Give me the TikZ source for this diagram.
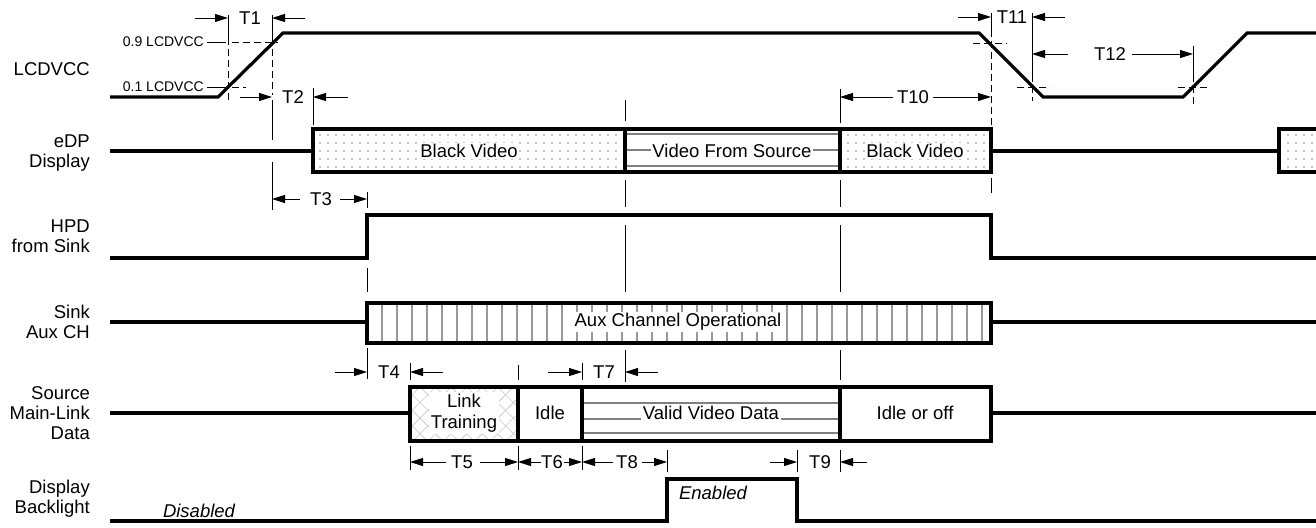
\documentclass[tikz,border=0pt]{standalone}
\usepackage{fontspec}
\setmainfont{Liberation Sans}
\usetikzlibrary{arrows.meta,patterns.meta}
\begin{document}
\begin{tikzpicture}[x=1pt,y=-1pt,
  sig/.style={line width=3.2pt, line join=miter},
  boxline/.style={line width=3.2pt},
  guide/.style={line width=0.9pt},
  dguide/.style={line width=0.9pt, dash pattern=on 7pt off 4pt},
  dim/.style={line width=0.9pt, -{Triangle[length=13pt,width=8pt]}},
  lab/.style={font=\fontsize{18.5}{20}\selectfont, align=right, anchor=east, inner sep=0pt},
  txt/.style={font=\fontsize{18.5}{21}\selectfont, inner sep=0pt, align=center},
  itxt/.style={font=\fontsize{18.5}{21}\selectfont\itshape, inner sep=0pt},
  wtxt/.style={font=\fontsize{18.5}{21}\selectfont, fill=white, inner sep=1.5pt, align=center},
  lvl/.style={font=\fontsize{14}{16}\selectfont, inner sep=0pt, anchor=east},
  dotfill/.style={pattern={Dots[radius=0.9pt,distance=8pt]}, pattern color=gray!90},
  ]
\useasboundingbox (0,0) rectangle (1316,527);

% ---------- row labels ----------
\node[lab] (lLCD) at (90,69) {LCDVCC};
\node[lab] (lEDP) at (90,153) {eDP\\Display};
\node[lab] (lHPD) at (90,236) {HPD\\from Sink};
\node[lab] (lAUX) at (90,322) {Sink\\Aux CH};
\node[lab] (lSRC) at (90,413) {Source\\Main-Link\\Data};
\node[lab] (lBL) at (90,499) {Display\\Backlight};

% ---------- LCDVCC ----------
\draw[sig] (110,97) -- (218,97) -- (283,33) -- (979,33) -- (1043,97) -- (1183,97) -- (1247,33) -- (1316,33);
\node[lvl] (l09) at (204,42) {0.9 LCDVCC};
\node[lvl] (l01) at (204,87) {0.1 LCDVCC};
\draw[guide] (207,42) -- (226,42);
\draw[dguide] (232,42) -- (278,42);
\draw[guide] (207,87) -- (226,87);
\draw[dguide] (232,87) -- (246,87);
\draw[dguide] (973,43) -- (1007,43);
\draw[dguide] (1017,87) -- (1050,87);
\draw[dguide] (1178,87) -- (1210,87);

% verticals (top)
\draw[guide] (228,15) -- (228,38);  \draw[dguide] (228,38) -- (228,100);
\draw[guide] (272,15) -- (272,38);  \draw[dguide] (272,38) -- (272,95);
\draw[guide] (272,100) -- (272,140); \draw[guide] (272,162) -- (272,210);
\draw[guide] (313,88) -- (313,125);
\draw[guide] (991,13) -- (991,30);  \draw[dguide] (991,30) -- (991,126);
\draw[guide] (991,178) -- (991,193);
\draw[guide] (1032,13) -- (1032,75); \draw[dguide] (1032,75) -- (1032,101);
\draw[guide] (1193,46) -- (1193,75); \draw[dguide] (1193,75) -- (1193,104);

% verticals (middle)
\draw[guide] (625,100) -- (625,121) (625,180) -- (625,207) (625,225) -- (625,292) (625,350) -- (625,382);
\draw[guide] (840,89) -- (840,123) (840,180) -- (840,207) (840,225) -- (840,292) (840,350) -- (840,380) (840,450) -- (840,472);
\draw[guide] (367,192) -- (367,208) (367,268) -- (367,292) (367,348) -- (367,379);
\draw[guide] (410,363) -- (410,380) (410,446) -- (410,470);
\draw[guide] (518,365) -- (518,380) (518,446) -- (518,470);
\draw[guide] (582,363) -- (582,380) (582,446) -- (582,470);
\draw[guide] (667,450) -- (667,472);
\draw[guide] (797,450) -- (797,472);

% ---------- eDP Display ----------
\draw[sig] (110,151) -- (313,151);
\fill[dotfill] (313,129) rectangle (625,172);
\fill[dotfill] (840,129) rectangle (991,172);
\fill[dotfill] (1279,129) rectangle (1316,172);
\draw[gray, line width=1.8pt] (625,134) -- (840,134) (625,150) -- (840,150) (625,166) -- (840,166);
\node[wtxt] (bv1) at (469,151) {Black Video};
\node[wtxt] (vfs) at (732,151) {Video From Source};
\node[wtxt] (bv2) at (915,151) {Black Video};
\draw[boxline] (313,129) rectangle (991,172);
\draw[boxline] (625,129) -- (625,172) (840,129) -- (840,172);
\draw[sig] (991,151) -- (1279,151);
\draw[boxline] (1316,129) -- (1279,129) -- (1279,172) -- (1316,172);

% ---------- HPD ----------
\draw[sig] (110,258) -- (367,258) -- (367,215) -- (991,215) -- (991,258) -- (1316,258);

% ---------- Aux ----------
\draw[sig] (110,322) -- (367,322);
\foreach \k in {1,...,41} \draw[gray!80, line width=1.1pt] ({367+15*\k},303) -- ({367+15*\k},343);
\node[wtxt] (aux) at (678,322) {Aux Channel Operational};
\draw[boxline] (367,303) rectangle (991,343);
\draw[sig] (991,322) -- (1316,322);

% ---------- Source Main-Link ----------
\draw[sig] (110,413) -- (410,413);
\fill[pattern={Lines[angle=45,distance=11pt,line width=0.6pt]}, pattern color=gray!45] (410,387) rectangle (518,441);
\fill[pattern={Lines[angle=-45,distance=11pt,line width=0.6pt]}, pattern color=gray!45] (410,387) rectangle (518,441);
\draw[gray, line width=1.6pt] (582,403) -- (840,403) (582,419) -- (840,419) (582,433) -- (840,433);
\node[wtxt] (lt) at (464,413) {Link\\Training};
\node[txt] (idle) at (550,413) {Idle};
\node[wtxt] (vvd) at (711,413) {Valid Video Data};
\node[txt] (ioff) at (915,413) {Idle or off};
\draw[boxline] (410,387) rectangle (991,441);
\draw[boxline] (518,387) -- (518,441) (582,387) -- (582,441) (840,387) -- (840,441);
\draw[sig] (991,413) -- (1316,413);

% ---------- Backlight ----------
\draw[sig] (110,521) -- (667,521) -- (667,479) -- (797,479) -- (797,521) -- (1316,521);
\node[itxt] (dis) at (199,511) {Disabled};
\node[itxt] (en) at (713,493) {Enabled};

% ---------- timing arrows ----------
\draw[dim] (195,18) -- (228,18);  \node[txt] (t1) at (250,18) {T1};  \draw[dim] (305,18) -- (272,18);
\draw[dim] (240,97) -- (272,97);  \node[txt] (t2) at (293,97) {T2};  \draw[dim] (348,97) -- (313,97);
\draw[dim] (300,199) -- (272,199); \node[txt] (t3) at (321,199) {T3}; \draw[dim] (340,199) -- (367,199);
\draw[dim] (335,372) -- (367,372); \node[txt] (t4) at (389,372) {T4}; \draw[dim] (443,372) -- (410,372);
\draw[dim] (446,462) -- (410,462); \node[txt] (t5) at (462,462) {T5}; \draw[dim] (480,462) -- (518,462);
\draw[dim] (541,462) -- (518,462); \node[txt] (t6) at (552,462) {T6}; \draw[dim] (564,462) -- (582,462);
\draw[dim] (548,372) -- (582,372); \node[txt] (t7) at (604,372) {T7}; \draw[dim] (658,372) -- (625,372);
\draw[dim] (613,462) -- (582,462); \node[txt] (t8) at (627,462) {T8}; \draw[dim] (642,462) -- (667,462);
\draw[dim] (770,462) -- (797,462); \node[txt] (t9) at (820,462) {T9}; \draw[dim] (867,462) -- (840,462);
\draw[dim] (893,97) -- (840,97);  \node[txt] (t10) at (913,97) {T10}; \draw[dim] (933,97) -- (991,97);
\draw[dim] (958,17) -- (991,17);  \node[txt] (t11) at (1012,17) {T11}; \draw[dim] (1065,17) -- (1032,17);
\draw[dim] (1068,54) -- (1032,54); \node[txt] (t12) at (1110,54) {T12}; \draw[dim] (1132,54) -- (1193,54);
\end{tikzpicture}
\end{document}
